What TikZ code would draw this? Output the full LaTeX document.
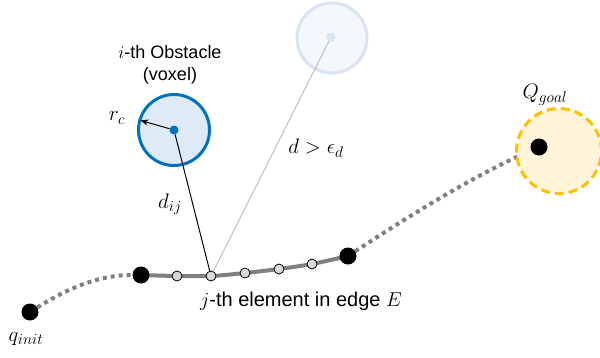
\RequirePackage{fix-cm}
\documentclass[tikz,border=0pt]{standalone}
\usepackage{fontspec}
\setmainfont{Liberation Sans}
\usetikzlibrary{arrows.meta}
\DeclareMathSizes{21}{21}{15.5}{11}
\pgfdeclarelayer{bg}
\pgfsetlayers{bg,main}
\definecolor{obsblue}{RGB}{0,112,192}
\definecolor{obsfill}{RGB}{222,235,247}
\definecolor{fadeline}{RGB}{218,227,243}
\definecolor{fadefill}{RGB}{244,248,253}
\definecolor{goalline}{RGB}{255,192,0}
\definecolor{goalfill}{RGB}{255,244,216}
\definecolor{pathgray}{RGB}{128,128,128}
\definecolor{elemfill}{RGB}{217,217,217}
\definecolor{farline}{RGB}{190,190,190}
\begin{document}
\begin{tikzpicture}[x=1pt,y=-1pt,
  bigdot/.style={circle,fill=black,inner sep=0pt,minimum size=17pt},
  elem/.style={circle,draw=black,line width=0.8pt,fill=elemfill,inner sep=0pt,minimum size=10pt},
  dottedpath/.style={pathgray,line width=4pt,dash pattern=on 4pt off 4pt},
  txt/.style={font=\fontsize{18}{22}\selectfont,inner sep=0pt},
  mathlbl/.style={font=\fontsize{21}{24}\selectfont,inner sep=0pt}]
\useasboundingbox (0,0) rectangle (600,357);
% obstacles and goal
\node[circle,draw=obsblue,line width=3pt,fill=obsfill,minimum size=71pt,inner sep=0pt] (obs) at (174,130) {};
\node[circle,fill=obsblue,inner sep=0pt,minimum size=9pt] (odot) at (174,130) {};
\node[circle,draw=fadeline,line width=3pt,fill=fadefill,minimum size=70pt,inner sep=0pt] (far) at (332,38) {};
\node[circle,fill=fadeline,inner sep=0pt,minimum size=9pt] (fdot) at (331,37) {};
\node[circle,draw=goalline,line width=3pt,dash pattern=on 9pt off 5pt,fill=goalfill,minimum size=85pt,inner sep=0pt] (goal) at (559,151) {};
% path nodes
\node[bigdot] (qinit) at (30,312) {};
\node[bigdot] (e0) at (141,275) {};
\node[elem] (e1) at (177,276) {};
\node[elem] (e2) at (211,276) {};
\node[elem] (e3) at (245,273) {};
\node[elem] (e4) at (279,269) {};
\node[elem] (e5) at (312,264) {};
\node[bigdot] (e6) at (348,256) {};
\node[bigdot] (gdot) at (539,147) {};
\begin{pgfonlayer}{bg}
\draw[pathgray,line width=4pt] plot[smooth,tension=0.5] coordinates {(e0.center) (e1.center) (e2.center) (e3.center) (e4.center) (e5.center) (e6.center)};
\draw[dottedpath] (qinit) .. controls (70,287) and (100,275) .. (e0);
\draw[dottedpath] (e6) .. controls (400,222) and (470,177) .. (gdot);
\end{pgfonlayer}
% distance lines
\draw[black,line width=1pt] (odot) -- (e2);
\draw[farline,line width=1pt] (fdot) -- (e2);
\draw[-{Stealth[length=8pt,width=6pt]},line width=1pt,shorten >=2pt] (odot) -- (obs.164);
% labels
\node[txt,align=center] (obslbl) at (170,65) {$i$-th Obstacle\\(voxel)};
\node[mathlbl] (rc) at (117,118) {$r_c$};
\node[mathlbl] (dij) at (170,204) {$d_{ij}$};
\node[mathlbl] (dfar) at (316,148) {$d > \epsilon_d$};
\node[mathlbl] (qg) at (545,95) {$Q_{goal}$};
\node[mathlbl] (qi) at (26,339) {$q_{init}$};
\node[txt,font=\fontsize{20}{24}\selectfont] (elbl) at (301,301) {$j$-th element in edge $E$};
\end{tikzpicture}
\end{document}
